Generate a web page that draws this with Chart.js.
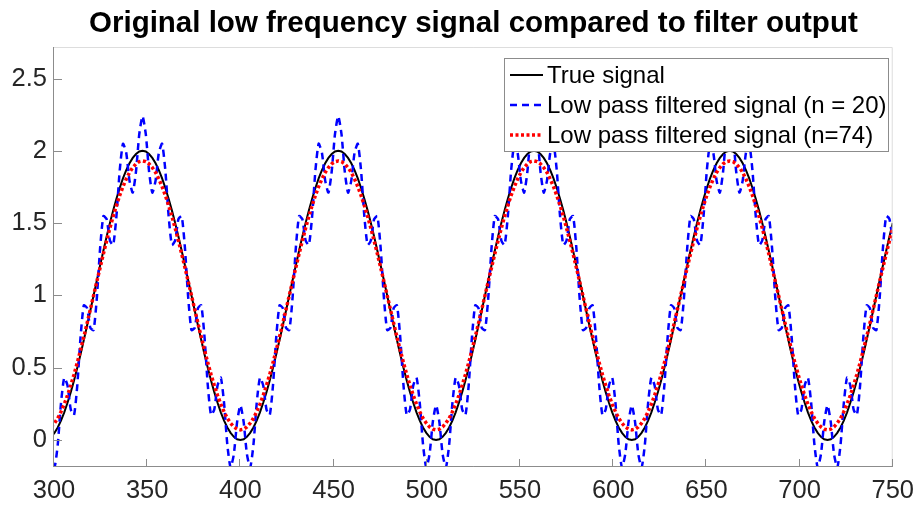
<!DOCTYPE html>
<html>
<head>
<meta charset="utf-8">
<script src="https://cdn.jsdelivr.net/npm/chart.js@4"></script>
<style>
    body { margin: 0; background: #ffffff; }
    #wrap { width: 923px; height: 505px; position: relative; }
</style>
</head>
<body>
<div id="wrap"><canvas id="signalChart"></canvas></div>
<script>
// sample positions
const xValues = [
    298.5, 300.25, 302, 303.75, 305.5, 307.25, 309, 310.75, 312.5, 314.25, 316, 317.75,
    319.5, 321.25, 323, 324.75, 326.5, 328.25, 330, 331.75, 333.5, 335.25, 337, 338.75,
    340.5, 342.25, 344, 345.75, 347.5, 349.25, 351, 352.75, 354.5, 356.25, 358, 359.75,
    361.5, 363.25, 365, 366.75, 368.5, 370.25, 372, 373.75, 375.5, 377.25, 379, 380.75,
    382.5, 384.25, 386, 387.75, 389.5, 391.25, 393, 394.75, 396.5, 398.25, 400, 401.75,
    403.5, 405.25, 407, 408.75, 410.5, 412.25, 414, 415.75, 417.5, 419.25, 421, 422.75,
    424.5, 426.25, 428, 429.75, 431.5, 433.25, 435, 436.75, 438.5, 440.25, 442, 443.75,
    445.5, 447.25, 449, 450.75, 452.5, 454.25, 456, 457.75, 459.5, 461.25, 463, 464.75,
    466.5, 468.25, 470, 471.75, 473.5, 475.25, 477, 478.75, 480.5, 482.25, 484, 485.75,
    487.5, 489.25, 491, 492.75, 494.5, 496.25, 498, 499.75, 501.5, 503.25, 505, 506.75,
    508.5, 510.25, 512, 513.75, 515.5, 517.25, 519, 520.75, 522.5, 524.25, 526, 527.75,
    529.5, 531.25, 533, 534.75, 536.5, 538.25, 540, 541.75, 543.5, 545.25, 547, 548.75,
    550.5, 552.25, 554, 555.75, 557.5, 559.25, 561, 562.75, 564.5, 566.25, 568, 569.75,
    571.5, 573.25, 575, 576.75, 578.5, 580.25, 582, 583.75, 585.5, 587.25, 589, 590.75,
    592.5, 594.25, 596, 597.75, 599.5, 601.25, 603, 604.75, 606.5, 608.25, 610, 611.75,
    613.5, 615.25, 617, 618.75, 620.5, 622.25, 624, 625.75, 627.5, 629.25, 631, 632.75,
    634.5, 636.25, 638, 639.75, 641.5, 643.25, 645, 646.75, 648.5, 650.25, 652, 653.75,
    655.5, 657.25, 659, 660.75, 662.5, 664.25, 666, 667.75, 669.5, 671.25, 673, 674.75,
    676.5, 678.25, 680, 681.75, 683.5, 685.25, 687, 688.75, 690.5, 692.25, 694, 695.75,
    697.5, 699.25, 701, 702.75, 704.5, 706.25, 708, 709.75, 711.5, 713.25, 715, 716.75,
    718.5, 720.25, 722, 723.75, 725.5, 727.25, 729, 730.75, 732.5, 734.25, 736, 737.75,
    739.5, 741.25, 743, 744.75, 746.5, 748.25, 750
];

const trueSignal = [
    0.022, 0.049, 0.086, 0.134, 0.191, 0.257, 0.331, 0.412, 0.5, 0.593, 0.691, 0.792,
    0.895, 1, 1.105, 1.208, 1.309, 1.407, 1.5, 1.588, 1.669, 1.743, 1.809, 1.866,
    1.914, 1.951, 1.978, 1.995, 2, 1.995, 1.978, 1.951, 1.914, 1.866, 1.809, 1.743,
    1.669, 1.588, 1.5, 1.407, 1.309, 1.208, 1.105, 1, 0.895, 0.792, 0.691, 0.593,
    0.5, 0.412, 0.331, 0.257, 0.191, 0.134, 0.086, 0.049, 0.022, 0.005, 0, 0.005,
    0.022, 0.049, 0.086, 0.134, 0.191, 0.257, 0.331, 0.412, 0.5, 0.593, 0.691, 0.792,
    0.895, 1, 1.105, 1.208, 1.309, 1.407, 1.5, 1.588, 1.669, 1.743, 1.809, 1.866,
    1.914, 1.951, 1.978, 1.995, 2, 1.995, 1.978, 1.951, 1.914, 1.866, 1.809, 1.743,
    1.669, 1.588, 1.5, 1.407, 1.309, 1.208, 1.105, 1, 0.895, 0.792, 0.691, 0.593,
    0.5, 0.412, 0.331, 0.257, 0.191, 0.134, 0.086, 0.049, 0.022, 0.005, 0, 0.005,
    0.022, 0.049, 0.086, 0.134, 0.191, 0.257, 0.331, 0.412, 0.5, 0.593, 0.691, 0.792,
    0.895, 1, 1.105, 1.208, 1.309, 1.407, 1.5, 1.588, 1.669, 1.743, 1.809, 1.866,
    1.914, 1.951, 1.978, 1.995, 2, 1.995, 1.978, 1.951, 1.914, 1.866, 1.809, 1.743,
    1.669, 1.588, 1.5, 1.407, 1.309, 1.208, 1.105, 1, 0.895, 0.792, 0.691, 0.593,
    0.5, 0.412, 0.331, 0.257, 0.191, 0.134, 0.086, 0.049, 0.022, 0.005, 0, 0.005,
    0.022, 0.049, 0.086, 0.134, 0.191, 0.257, 0.331, 0.412, 0.5, 0.593, 0.691, 0.792,
    0.895, 1, 1.105, 1.208, 1.309, 1.407, 1.5, 1.588, 1.669, 1.743, 1.809, 1.866,
    1.914, 1.951, 1.978, 1.995, 2, 1.995, 1.978, 1.951, 1.914, 1.866, 1.809, 1.743,
    1.669, 1.588, 1.5, 1.407, 1.309, 1.208, 1.105, 1, 0.895, 0.792, 0.691, 0.593,
    0.5, 0.412, 0.331, 0.257, 0.191, 0.134, 0.086, 0.049, 0.022, 0.005, 0, 0.005,
    0.022, 0.049, 0.086, 0.134, 0.191, 0.257, 0.331, 0.412, 0.5, 0.593, 0.691, 0.792,
    0.895, 1, 1.105, 1.208, 1.309, 1.407, 1.5
];

// n = 20 filter output, ripple still visible
const filtered20 = [
    -0.098, -0.191, -0.034, 0.254, 0.431, 0.377, 0.211, 0.172, 0.38, 0.713, 0.931, 0.912,
    0.775, 0.76, 0.985, 1.328, 1.549, 1.527, 1.38, 1.348, 1.549, 1.863, 2.049, 1.986,
    1.794, 1.711, 1.858, 2.115, 2.24, 2.115, 1.858, 1.711, 1.794, 1.986, 2.049, 1.863,
    1.549, 1.348, 1.38, 1.527, 1.549, 1.328, 0.985, 0.76, 0.775, 0.912, 0.931, 0.713,
    0.38, 0.172, 0.211, 0.377, 0.431, 0.254, -0.034, -0.191, -0.098, 0.125, 0.24, 0.125,
    -0.098, -0.191, -0.034, 0.254, 0.431, 0.377, 0.211, 0.172, 0.38, 0.713, 0.931, 0.912,
    0.775, 0.76, 0.985, 1.328, 1.549, 1.527, 1.38, 1.348, 1.549, 1.863, 2.049, 1.986,
    1.794, 1.711, 1.858, 2.115, 2.24, 2.115, 1.858, 1.711, 1.794, 1.986, 2.049, 1.863,
    1.549, 1.348, 1.38, 1.527, 1.549, 1.328, 0.985, 0.76, 0.775, 0.912, 0.931, 0.713,
    0.38, 0.172, 0.211, 0.377, 0.431, 0.254, -0.034, -0.191, -0.098, 0.125, 0.24, 0.125,
    -0.098, -0.191, -0.034, 0.254, 0.431, 0.377, 0.211, 0.172, 0.38, 0.713, 0.931, 0.912,
    0.775, 0.76, 0.985, 1.328, 1.549, 1.527, 1.38, 1.348, 1.549, 1.863, 2.049, 1.986,
    1.794, 1.711, 1.858, 2.115, 2.24, 2.115, 1.858, 1.711, 1.794, 1.986, 2.049, 1.863,
    1.549, 1.348, 1.38, 1.527, 1.549, 1.328, 0.985, 0.76, 0.775, 0.912, 0.931, 0.713,
    0.38, 0.172, 0.211, 0.377, 0.431, 0.254, -0.034, -0.191, -0.098, 0.125, 0.24, 0.125,
    -0.098, -0.191, -0.034, 0.254, 0.431, 0.377, 0.211, 0.172, 0.38, 0.713, 0.931, 0.912,
    0.775, 0.76, 0.985, 1.328, 1.549, 1.527, 1.38, 1.348, 1.549, 1.863, 2.049, 1.986,
    1.794, 1.711, 1.858, 2.115, 2.24, 2.115, 1.858, 1.711, 1.794, 1.986, 2.049, 1.863,
    1.549, 1.348, 1.38, 1.527, 1.549, 1.328, 0.985, 0.76, 0.775, 0.912, 0.931, 0.713,
    0.38, 0.172, 0.211, 0.377, 0.431, 0.254, -0.034, -0.191, -0.098, 0.125, 0.24, 0.125,
    -0.098, -0.191, -0.034, 0.254, 0.431, 0.377, 0.211, 0.172, 0.38, 0.713, 0.931, 0.912,
    0.775, 0.76, 0.985, 1.328, 1.549, 1.527, 1.38
];

// n = 74 filter output, a little flattened
const filtered74 = [
    0.09, 0.116, 0.15, 0.195, 0.248, 0.309, 0.378, 0.453, 0.535, 0.622, 0.713, 0.807,
    0.903, 1, 1.097, 1.193, 1.287, 1.378, 1.465, 1.547, 1.622, 1.691, 1.752, 1.805,
    1.85, 1.884, 1.91, 1.925, 1.93, 1.925, 1.91, 1.884, 1.85, 1.805, 1.752, 1.691,
    1.622, 1.547, 1.465, 1.378, 1.287, 1.193, 1.097, 1, 0.903, 0.807, 0.713, 0.622,
    0.535, 0.453, 0.378, 0.309, 0.248, 0.195, 0.15, 0.116, 0.09, 0.075, 0.07, 0.075,
    0.09, 0.116, 0.15, 0.195, 0.248, 0.309, 0.378, 0.453, 0.535, 0.622, 0.713, 0.807,
    0.903, 1, 1.097, 1.193, 1.287, 1.378, 1.465, 1.547, 1.622, 1.691, 1.752, 1.805,
    1.85, 1.884, 1.91, 1.925, 1.93, 1.925, 1.91, 1.884, 1.85, 1.805, 1.752, 1.691,
    1.622, 1.547, 1.465, 1.378, 1.287, 1.193, 1.097, 1, 0.903, 0.807, 0.713, 0.622,
    0.535, 0.453, 0.378, 0.309, 0.248, 0.195, 0.15, 0.116, 0.09, 0.075, 0.07, 0.075,
    0.09, 0.116, 0.15, 0.195, 0.248, 0.309, 0.378, 0.453, 0.535, 0.622, 0.713, 0.807,
    0.903, 1, 1.097, 1.193, 1.287, 1.378, 1.465, 1.547, 1.622, 1.691, 1.752, 1.805,
    1.85, 1.884, 1.91, 1.925, 1.93, 1.925, 1.91, 1.884, 1.85, 1.805, 1.752, 1.691,
    1.622, 1.547, 1.465, 1.378, 1.287, 1.193, 1.097, 1, 0.903, 0.807, 0.713, 0.622,
    0.535, 0.453, 0.378, 0.309, 0.248, 0.195, 0.15, 0.116, 0.09, 0.075, 0.07, 0.075,
    0.09, 0.116, 0.15, 0.195, 0.248, 0.309, 0.378, 0.453, 0.535, 0.622, 0.713, 0.807,
    0.903, 1, 1.097, 1.193, 1.287, 1.378, 1.465, 1.547, 1.622, 1.691, 1.752, 1.805,
    1.85, 1.884, 1.91, 1.925, 1.93, 1.925, 1.91, 1.884, 1.85, 1.805, 1.752, 1.691,
    1.622, 1.547, 1.465, 1.378, 1.287, 1.193, 1.097, 1, 0.903, 0.807, 0.713, 0.622,
    0.535, 0.453, 0.378, 0.309, 0.248, 0.195, 0.15, 0.116, 0.09, 0.075, 0.07, 0.075,
    0.09, 0.116, 0.15, 0.195, 0.248, 0.309, 0.378, 0.453, 0.535, 0.622, 0.713, 0.807,
    0.903, 1, 1.097, 1.193, 1.287, 1.378, 1.465
];

const xTicks = [300, 350, 400, 450, 500, 550, 600, 650, 700, 750];
const yTicks = [0, 0.5, 1, 1.5, 2, 2.5];
const seriesLabels = ['True signal', 'Low pass filtered signal (n = 20)', 'Low pass filtered signal (n=74)'];
const chartTitle = 'Original low frequency signal compared to filter output';

const FONT = '"Liberation Sans", Arial, Helvetica, sans-serif';
const TEXT_COLOR = '#262626';

function toPoints(values) {
    return values.map((y, i) => ({ x: xValues[i], y: y }));
}

// matlab look: box, inward ticks, legend inside the axes, title on top
const matlabAxes = {
    id: 'matlabAxes',
    afterDatasetsDraw(chart) {
        const ctx = chart.ctx;
        const a = chart.chartArea;
        const xs = chart.scales.x;
        const ys = chart.scales.y;
        ctx.save();

        ctx.lineWidth = 1;
        ctx.strokeStyle = '#dddddd';
        ctx.beginPath();
        ctx.moveTo(a.left, a.top + 0.5);
        ctx.lineTo(a.right - 0.5, a.top + 0.5);
        ctx.lineTo(a.right - 0.5, a.bottom);
        ctx.stroke();

        ctx.strokeStyle = '#8c8c8c';
        ctx.beginPath();
        ctx.moveTo(a.left - 0.5, a.top);
        ctx.lineTo(a.left - 0.5, a.bottom - 0.5);
        ctx.lineTo(a.right, a.bottom - 0.5);
        xTicks.forEach(v => {
            const px = Math.round(xs.getPixelForValue(v)) - 0.5;
            ctx.moveTo(px, a.bottom);
            ctx.lineTo(px, a.bottom - 8);
        });
        yTicks.forEach(v => {
            const py = Math.round(ys.getPixelForValue(v)) + 0.5;
            ctx.moveTo(a.left, py);
            ctx.lineTo(a.left + 8, py);
        });
        ctx.stroke();

        // legend
        const box = { x: 504, y: 58, w: 385, h: 94 };
        ctx.fillStyle = '#ffffff';
        ctx.fillRect(box.x, box.y, box.w, box.h);
        ctx.strokeStyle = '#8c8c8c';
        ctx.strokeRect(box.x + 0.5, box.y + 0.5, box.w - 1, box.h - 1);

        ctx.font = '24px ' + FONT;
        ctx.textBaseline = 'middle';
        ctx.textAlign = 'left';
        chart.data.datasets.forEach((ds, i) => {
            const rowY = box.y + 17 + i * 30;
            ctx.save();
            ctx.strokeStyle = ds.borderColor;
            ctx.lineWidth = ds.borderWidth;
            ctx.setLineDash(ds.borderDash || []);
            ctx.beginPath();
            ctx.moveTo(box.x + 6, rowY);
            ctx.lineTo(box.x + 39, rowY);
            ctx.stroke();
            ctx.restore();
            ctx.fillStyle = '#000000';
            ctx.fillText(ds.label, box.x + 43, rowY + 1);
        });
        ctx.restore();
    },
    afterDraw(chart) {
        const ctx = chart.ctx;
        const a = chart.chartArea;
        ctx.save();
        ctx.font = 'bold 29.5px ' + FONT;
        ctx.fillStyle = '#000000';
        ctx.textAlign = 'center';
        ctx.textBaseline = 'middle';
        ctx.fillText(chartTitle, (a.left + a.right) / 2, 24);
        ctx.restore();
    }
};

const tickFont = { family: FONT, size: 25.5 };

const config = {
    type: 'line',
    data: {
        datasets: [
            {
                label: seriesLabels[0],
                data: toPoints(trueSignal),
                borderColor: '#000000',
                borderWidth: 2,
                order: 2,
            },
            {
                label: seriesLabels[1],
                data: toPoints(filtered20),
                borderColor: '#0000ff',
                borderWidth: 2.5,
                borderDash: [7, 5],
                tension: 0.2,
                order: 1,
            },
            {
                label: seriesLabels[2],
                data: toPoints(filtered74),
                borderColor: '#ff0000',
                borderWidth: 3.5,
                borderDash: [3, 2.5],
                order: 0,
            },
        ],
    },
    options: {
        responsive: true,
        maintainAspectRatio: false,
        animation: false,
        layout: { padding: { top: 47, right: 24, bottom: 0, left: 0 } },
        elements: {
            point: { radius: 0 },
            line: { fill: false, tension: 0, borderCapStyle: 'butt' },
        },
        plugins: {
            legend: { display: false },
            title: { display: false },
            tooltip: { enabled: false },
        },
        scales: {
            x: {
                type: 'linear',
                min: 300,
                max: 750,
                grid: { display: false, drawTicks: false },
                border: { display: false },
                afterBuildTicks: (scale) => { scale.ticks = xTicks.map(v => ({ value: v })); },
                afterFit: (scale) => { scale.height = 38; },
                ticks: {
                    padding: 9,
                    color: TEXT_COLOR,
                    font: tickFont,
                    maxRotation: 0,
                    autoSkip: false,
                    callback: (v) => String(v),
                },
            },
            y: {
                type: 'linear',
                min: -0.187,
                max: 2.718,
                grid: { display: false, drawTicks: false },
                border: { display: false },
                afterBuildTicks: (scale) => { scale.ticks = yTicks.map(v => ({ value: v })); },
                afterFit: (scale) => { scale.width = 54; },
                ticks: {
                    padding: 7,
                    color: TEXT_COLOR,
                    font: tickFont,
                    autoSkip: false,
                    callback: (v) => String(v),
                },
            },
        },
    },
    plugins: [matlabAxes],
};

const signalChart = new Chart(document.getElementById('signalChart'), config);
</script>
</body>
</html>
